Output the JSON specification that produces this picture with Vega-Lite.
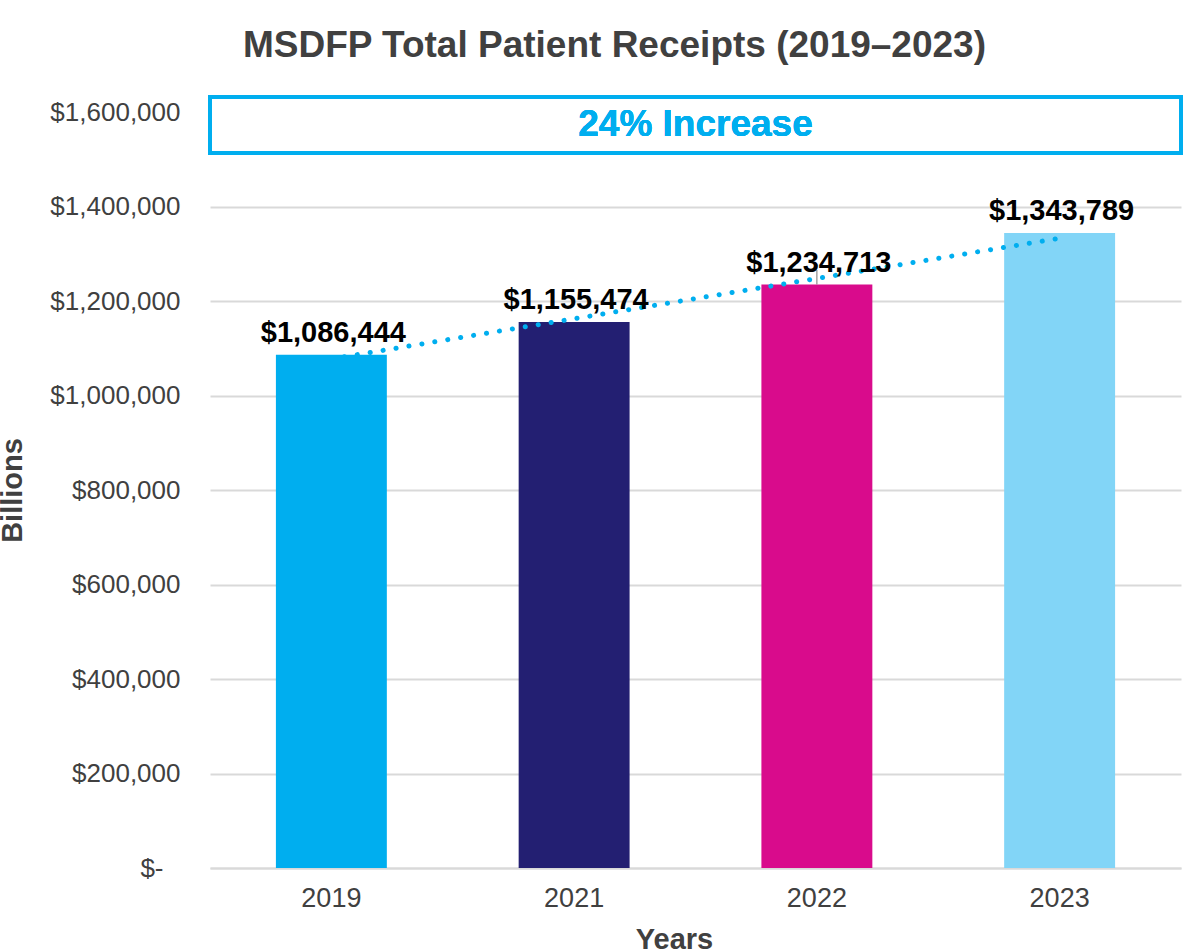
{
  "$schema": "https://vega.github.io/schema/vega-lite/v6.json",
  "width": 971,
  "height": 756,
  "autosize": {"type": "none"},
  "padding": {"left": 210, "top": 112, "right": 9, "bottom": 84},
  "background": "white",
  "config": {
    "font": "Liberation Sans",
    "view": {"stroke": null}
  },
  "title": {
    "text": "MSDFP Total Patient Receipts (2019–2023)",
    "fontSize": 37,
    "fontWeight": "bold",
    "color": "#404040",
    "anchor": "middle",
    "frame": "group",
    "dx": -81,
    "offset": 30
  },
  "data": {
    "values": [
      {"Year": "2019", "Value": 1086444, "Label": "$1,086,444", "Trend": 1077400},
      {"Year": "2021", "Value": 1155474, "Label": "$1,155,474", "Trend": 1162500},
      {"Year": "2022", "Value": 1234713, "Label": "$1,234,713", "Trend": 1247700},
      {"Year": "2023", "Value": 1343789, "Label": "$1,343,789", "Trend": 1332800}
    ]
  },
  "layer": [
    {
      "mark": {"type": "bar"},
      "encoding": {
        "x": {
          "field": "Year",
          "type": "nominal",
          "scale": {"paddingInner": 0.543, "paddingOuter": 0.2715},
          "axis": {
            "title": "Years",
            "titleFontSize": 29,
            "titleFontWeight": "bold",
            "titleColor": "#404040",
            "titlePadding": 14,
            "titleX": 464,
            "labelAngle": 0,
            "labelFontSize": 27,
            "labelColor": "#404040",
            "labelPadding": 17,
            "ticks": false,
            "domain": true,
            "domainColor": "#d9d9d9",
            "domainWidth": 2,
            "grid": false
          }
        },
        "y": {
          "field": "Value",
          "type": "quantitative",
          "scale": {"domain": [0, 1600000], "nice": false},
          "axis": {
            "title": "Billions",
            "titleFontSize": 29,
            "titleFontWeight": "bold",
            "titleColor": "#404040",
            "titlePadding": 22,
            "values": [0, 200000, 400000, 600000, 800000, 1000000, 1200000, 1400000, 1600000],
            "labelExpr": "datum.value == 0 ? '$-' : '$' + format(datum.value, ',')",
            "labelFontSize": 26,
            "labelColor": "#404040",
            "labelPadding": {"condition": {"test": "datum.value == 0", "value": 47}, "value": 30},
            "ticks": false,
            "domain": false,
            "grid": true,
            "gridColor": "#d9d9d9",
            "gridWidth": 2
          }
        },
        "color": {
          "field": "Year",
          "type": "nominal",
          "scale": {"domain": ["2019", "2021", "2022", "2023"], "range": ["#00AEEF", "#231F72", "#D90B8C", "#82D5F7"]},
          "legend": null
        }
      }
    },
    {
      "transform": [{"filter": "datum.Year == '2022'"}],
      "mark": {"type": "rule", "color": "#8c8c8c", "strokeWidth": 1.2},
      "encoding": {
        "x": {"field": "Year", "type": "nominal"},
        "y": {"field": "Value", "type": "quantitative"},
        "y2": {"datum": 1265600}
      }
    },
    {
      "mark": {"type": "line", "color": "#00AEEF", "strokeWidth": 5, "strokeCap": "round", "strokeDash": [0.1, 13]},
      "encoding": {
        "x": {"field": "Year", "type": "nominal"},
        "y": {"field": "Trend", "type": "quantitative"}
      }
    },
    {
      "mark": {"type": "text", "fontSize": 29, "fontWeight": "bold", "color": "#000000", "baseline": "alphabetic", "dy": -13, "dx": 2},
      "encoding": {
        "x": {"field": "Year", "type": "nominal"},
        "y": {"field": "Value", "type": "quantitative"},
        "text": {"field": "Label"}
      }
    },
    {
      "mark": {"type": "rect", "fill": "white", "stroke": "#00AEEF", "strokeWidth": 4},
      "encoding": {
        "y": {"datum": 1631700, "type": "quantitative"},
        "y2": {"datum": 1513200}
      }
    },
    {
      "mark": {"type": "text", "fontSize": 37, "fontWeight": "bold", "color": "#00AEEF", "baseline": "middle", "align": "center"},
      "encoding": {
        "y": {"datum": 1572000, "type": "quantitative"},
        "text": {"value": "24% Increase"}
      }
    }
  ]
}
